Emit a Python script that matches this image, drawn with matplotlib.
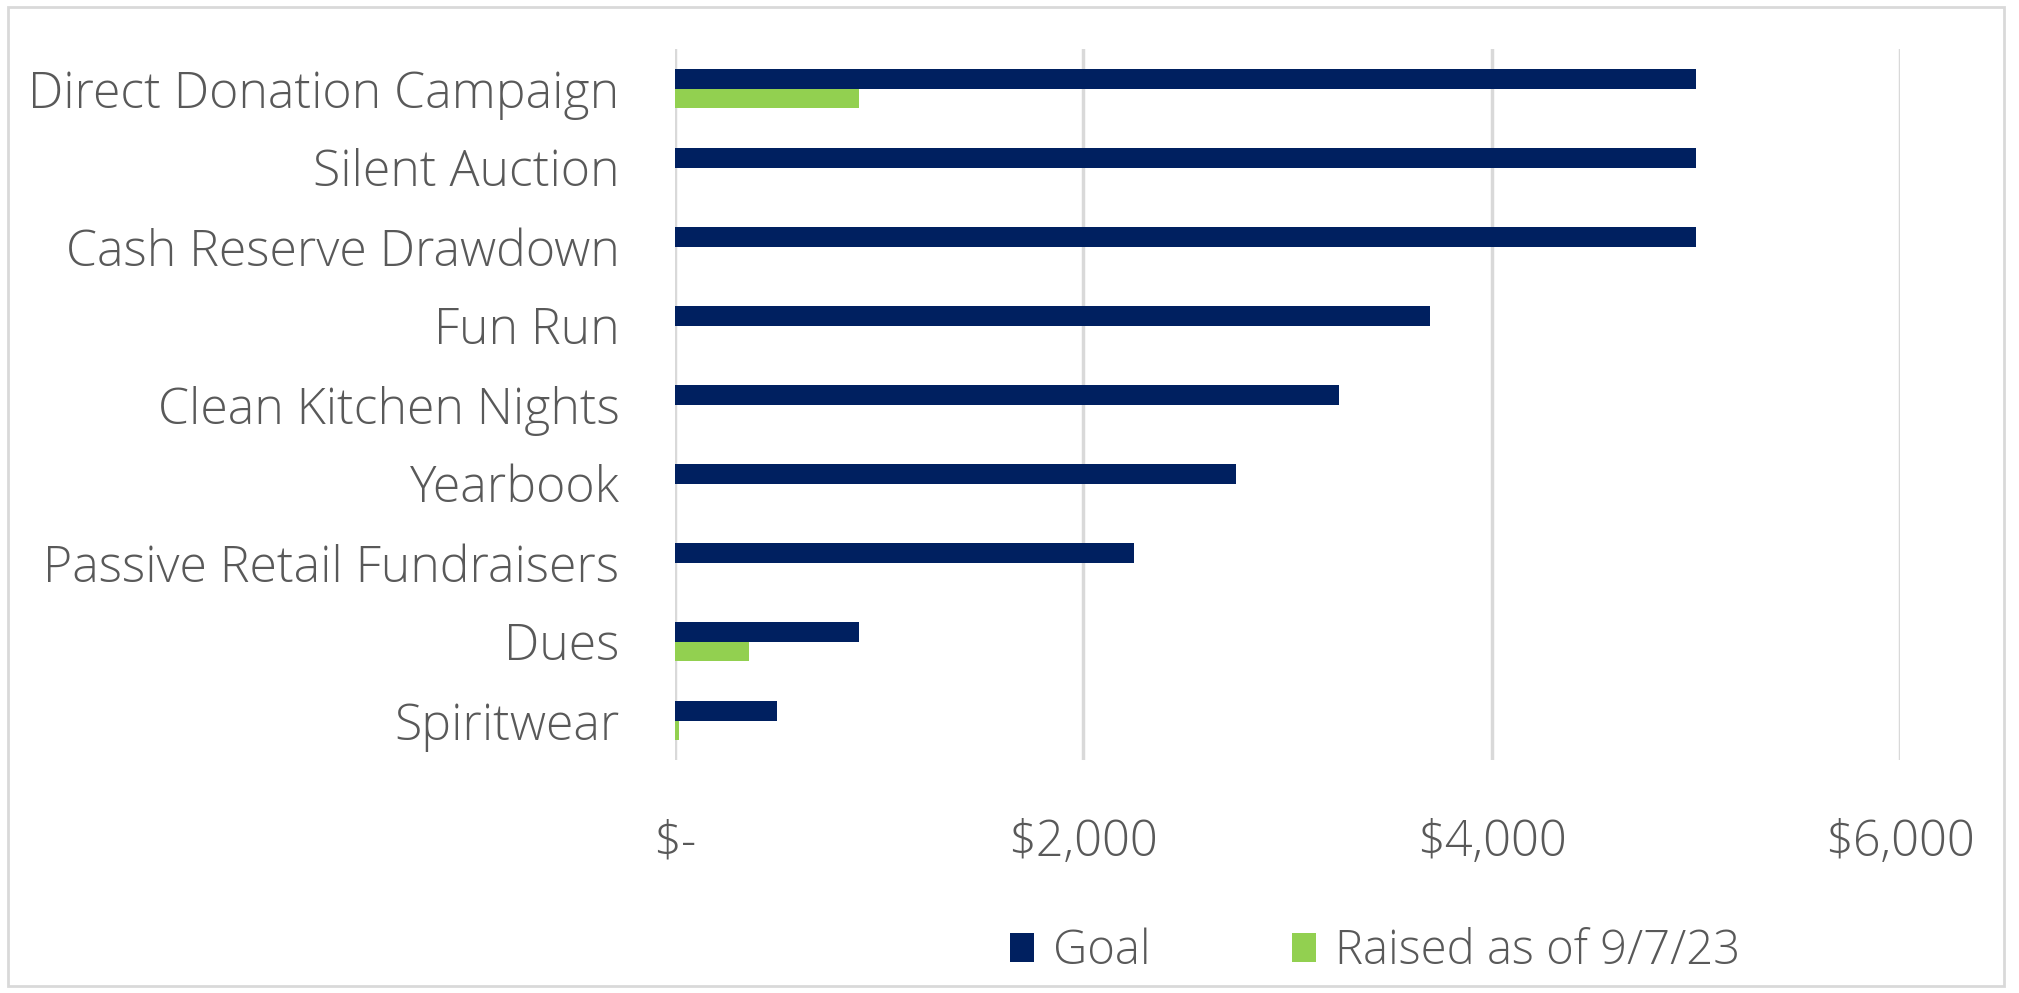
import matplotlib
matplotlib.use("Agg")
import matplotlib.pyplot as plt
from matplotlib.patches import Rectangle
import numpy as np

categories = ["Direct Donation Campaign", "Silent Auction", "Cash Reserve Drawdown",
              "Fun Run", "Clean Kitchen Nights", "Yearbook",
              "Passive Retail Fundraisers", "Dues", "Spiritwear"]
goal = [5000, 5000, 5000, 3700, 3250, 2750, 2250, 900, 500]
raised = [900, 0, 0, 0, 0, 0, 0, 360, 20]
xticks = [0, 2000, 4000, 6000]
xticklabels = ["$-", "$2,000", "$4,000", "$6,000"]
series_names = ["Goal", "Raised as of 9/7/23"]

navy = "#002060"
green = "#92D050"
txt = "#595959"

plt.rcParams['font.family'] = ['Open Sans', 'DejaVu Sans']

W, H = 2019, 993
fig = plt.figure(figsize=(W / 100, H / 100), dpi=100)
ax = fig.add_axes([675 / W, 1 - 760 / H, (1900 - 675) / W, (760 - 49) / H])

y = np.arange(len(categories))
h = 0.25
ax.barh(y - h / 2, goal, height=h, color=navy, label=series_names[0], zorder=3)
ax.barh(y + h / 2, raised, height=h, color=green, label=series_names[1], zorder=3)

ax.set_ylim(len(categories) - 0.5, -0.5)
ax.set_xlim(0, 6000)
ax.set_xticks(xticks)
ax.set_xticklabels(xticklabels)
ax.set_yticks(y)
ax.set_yticklabels(categories)
ax.tick_params(axis='y', length=0, labelsize=36, labelcolor=txt, pad=40)
ax.tick_params(axis='x', length=0, labelsize=35, labelcolor=txt, pad=42)
for lab in ax.get_xticklabels() + ax.get_yticklabels():
    lab.set_fontweight('light')

ax.grid(axis='x', color="#D9D9D9", linewidth=2.5, zorder=0)
for s in ax.spines.values():
    s.set_visible(False)

handles, labels = ax.get_legend_handles_labels()
leg = fig.legend(handles, labels, loc='center', bbox_to_anchor=(1375 / W, 1 - 952 / H),
                 ncol=2, frameon=False, fontsize=34, handlelength=0.5, handleheight=0.55,
                 handletextpad=0.4, columnspacing=3.0, labelcolor=txt)
for t in leg.get_texts():
    t.set_fontweight('light')

fig.patches.append(Rectangle((8 / W, 1 - 986 / H), (2004 - 8) / W, (986 - 7) / H,
                             transform=fig.transFigure, fill=False,
                             edgecolor="#D9D9D9", linewidth=2))

fig.savefig("out.png", dpi=100)
